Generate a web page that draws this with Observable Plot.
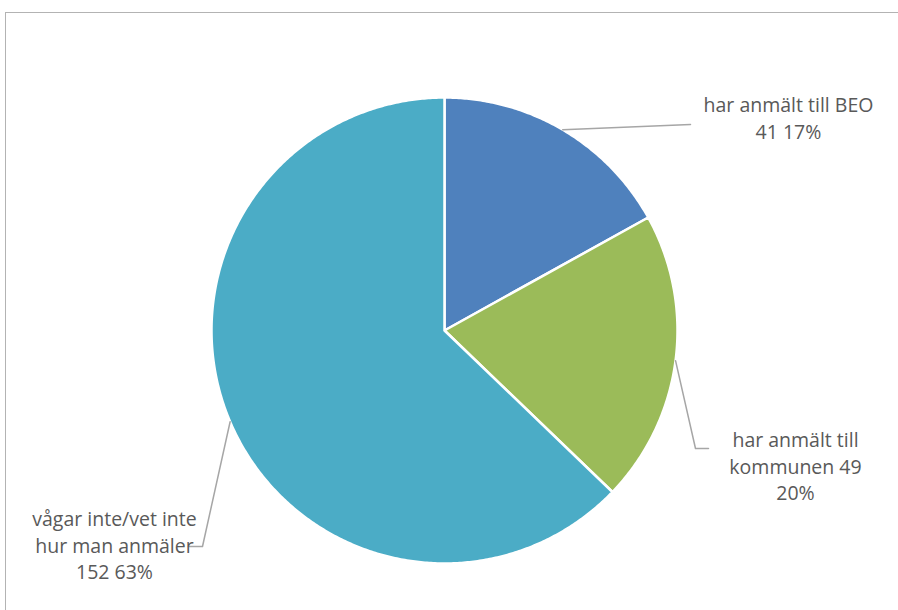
<!DOCTYPE html>
<html><head><meta charset="utf-8">
<script src="https://cdn.jsdelivr.net/npm/d3@7"></script>
<script src="https://cdn.jsdelivr.net/npm/@observablehq/plot@0.6"></script>
<style>
body{margin:0;background:#fff;}
#wrap{position:relative;width:898px;height:610px;overflow:hidden;}
#frame{position:absolute;left:5px;top:12px;width:905px;height:620px;border:1px solid #b3b3b3;box-sizing:border-box;}
#chart{position:absolute;left:0;top:0;}
</style></head><body>
<div id="wrap"><div id="frame"></div><div id="chart"></div></div>
<script>
// ---- data ----
const categories = ["har anmält till BEO", "har anmält till kommunen", "vågar inte/vet inte hur man anmäler"];
const counts = [41, 49, 152];
const percents = [17, 20, 63];
const labelLines = [
  ["har anmält till BEO", "41 17%"],
  ["har anmält till", "kommunen 49", "20%"],
  ["vågar inte/vet inte", "hur man anmäler", "152 63%"]
];
const colors = ["#4F81BD", "#9BBB59", "#4BACC6"];

// ---- layout ----
const W = 898, H = 610, CX = 444, CY = 330, R = 233;
const FONT = "'Open Sans', Lato, sans-serif";
const FS = 19.5;
// pixel -> data unit helpers (layout only)
const px = (x) => (x - CX) / R;
const py = (y) => (CY - y) / R;
// leader line elbows (pixel layout) and label anchors (pixel layout)
const leaderLayout = [
  [[690, 124]],
  [[695, 448], [708, 448]],
  [[202, 546], [188, 546]]
];
const labelLayout = [[788, 92], [795, 427], [114, 506]];

// ---- geometry from data ----
const pie = d3.pie().sort(null).value(d => d)(counts);
const slicePts = [];
pie.forEach((p, i) => {
  slicePts.push({cat: categories[i], x: 0, y: 0});
  const n = Math.max(2, Math.ceil((p.endAngle - p.startAngle) / (Math.PI / 360)));
  for (let k = 0; k <= n; k++) {
    const a = p.startAngle + (p.endAngle - p.startAngle) * k / n;
    slicePts.push({cat: categories[i], x: Math.sin(a), y: Math.cos(a)});
  }
  slicePts.push({cat: categories[i], x: 0, y: 0});
});

const leaderPts = [];
pie.forEach((p, i) => {
  const a = (p.startAngle + p.endAngle) / 2;
  leaderPts.push({cat: categories[i], x: Math.sin(a), y: Math.cos(a)});
  leaderLayout[i].forEach(([lx, ly]) => leaderPts.push({cat: categories[i], x: px(lx), y: py(ly)}));
});

const labels = categories.map((c, i) => ({
  cat: c, text: labelLines[i].join("\n"),
  x: px(labelLayout[i][0]), y: py(labelLayout[i][1])
}));

const chart = Plot.plot({
  width: W, height: H,
  margin: 0,
  x: {domain: [px(0), px(W)], axis: null},
  y: {domain: [py(H), py(0)], axis: null},
  color: {domain: categories, range: colors},
  style: {fontFamily: FONT, background: "transparent"},
  marks: [
    Plot.line(slicePts, {x: "x", y: "y", z: "cat", fill: "cat", stroke: "white", strokeWidth: 2.5, strokeLinejoin: "round"}),
    Plot.line(leaderPts, {x: "x", y: "y", z: "cat", stroke: "#a6a6a6", strokeWidth: 1.5}),
    Plot.text(labels, {x: "x", y: "y", text: "text", textAnchor: "middle", lineAnchor: "top", lineHeight: 1.38, fontSize: FS, fill: "#595959", fontFamily: FONT})
  ]
});
document.getElementById("chart").appendChild(chart);
</script>
</body></html>
